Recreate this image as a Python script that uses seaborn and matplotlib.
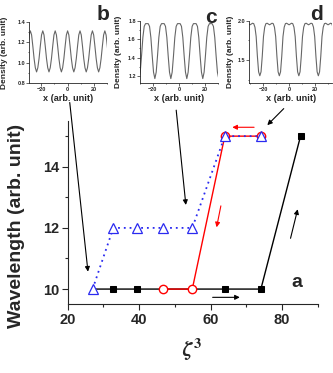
import numpy as np
import seaborn as sns
import matplotlib.pyplot as plt
from matplotlib.ticker import MultipleLocator

# main panel (a): wavelength vs zeta^3
zeta3 = [27.0, 32.8, 39.3, 46.7, 54.9, 64.0, 74.1, 85.2]
wl_black = [10, 10, 10, 10, 10, 10, 10, 15]

zeta3_red = [46.7, 54.9, 64.0, 74.1]
wl_red = [10, 10, 15, 15]

zeta3_blue = [27.0, 32.8, 39.3, 46.7, 54.9, 64.0, 74.1]
wl_blue = [10, 12, 12, 12, 12, 15, 15]

# insets (b, c, d): one period of the density profile
b_period = 9.4
b_shape = [1.31, 1.27, 1.16, 1.04, 0.95, 0.91, 0.95, 1.04, 1.16, 1.27]
c_period = 12.3
c_shape = [1.77, 1.77, 1.74, 1.62, 1.42, 1.24, 1.17, 1.24, 1.42, 1.62, 1.74, 1.77]
d_period = 15.0
d_shape = [1.95, 1.96, 1.97, 1.965, 1.92, 1.80, 1.55, 1.35, 1.30,
           1.35, 1.55, 1.80, 1.92, 1.965, 1.97, 1.96]

sns.set_style('ticks')
plt.rcParams['font.family'] = ['Liberation Sans', 'DejaVu Sans']
plt.rcParams['font.weight'] = 'bold'
plt.rcParams['axes.labelweight'] = 'bold'
plt.rcParams['mathtext.fontset'] = 'stix'


def tile_profile(shape, period, x0, lo, hi):
    # repeat the read period over the visible x range
    n = len(shape)
    xs, ys = [], []
    for k in range(int(np.floor((lo - x0) / period)) - 1, int(np.ceil((hi - x0) / period)) + 1):
        for i, v in enumerate(shape):
            xs.append(x0 + period * (k + i / n))
            ys.append(v)
    return xs, ys


fig = plt.figure(figsize=(3.33, 3.73), dpi=100)

# ---- main axes
ax = fig.add_axes([0.203, 0.184, 0.751, 0.492])
sns.lineplot(x=zeta3, y=wl_black, ax=ax, estimator=None, color='black', lw=1,
             marker='s', markersize=5, markeredgecolor='black', markerfacecolor='black',
             markevery=[1, 2, 5, 6, 7])
sns.lineplot(x=zeta3_red, y=wl_red, ax=ax, estimator=None, color='red', lw=1,
             marker='o', markersize=6, markeredgecolor='red', markerfacecolor='white',
             markeredgewidth=1)
sns.lineplot(x=zeta3_blue, y=wl_blue, ax=ax, estimator=None, color='#2a2af0', lw=1.3,
             linestyle=(0, (1, 2.2)), marker='^', markersize=7, markeredgecolor='#2a2af0',
             markerfacecolor='white', markeredgewidth=0.9)

ax.set_xlim(20, 90)
ax.set_ylim(9.5, 15.5)
ax.xaxis.set_major_locator(MultipleLocator(20))
ax.xaxis.set_minor_locator(MultipleLocator(10))
ax.yaxis.set_major_locator(MultipleLocator(2))
ax.yaxis.set_minor_locator(MultipleLocator(1))
ax.tick_params(which='major', direction='out', length=4, width=0.8, labelsize=10.5, pad=2)
ax.tick_params(which='minor', direction='out', length=2, width=0.8)
sns.despine(ax=ax)
for s in ax.spines.values():
    s.set_linewidth(0.8)
ax.set_ylabel('Wavelength (arb. unit)', fontsize=14)
ax.set_xlabel(r'$\zeta^3$', fontsize=15)
ax.yaxis.set_label_coords(-0.171, 0.426)
ax.xaxis.set_label_coords(0.497, -0.178)
ax.text(84.2, 10.2, 'a', fontsize=14, fontweight='bold', ha='center', va='center')

arrows = [
    ((20.6, 16.1), (25.7, 10.57), 'black'),
    ((50.4, 15.85), (53.1, 12.75), 'black'),
    ((80.5, 15.9), (75.9, 15.36), 'black'),
    ((72.2, 15.29), (66.1, 15.29), 'red'),
    ((62.9, 12.72), (61.7, 12.02), 'red'),
    ((60.6, 9.73), (68.2, 9.73), 'black'),
    ((82.4, 11.66), (84.4, 12.61), 'black'),
]
for tail, head, col in arrows:
    ax.annotate('', xy=head, xytext=tail, annotation_clip=False,
                arrowprops=dict(arrowstyle='-|>', color=col, lw=0.8,
                                mutation_scale=7, shrinkA=0, shrinkB=0))

# ---- insets
insets = [
    ([0.088, 0.777, 0.234, 0.165], b_shape, b_period, (-29, 30), (0.8, 1.4), 0.2, -0.27, 'b'),
    ([0.420, 0.777, 0.234, 0.167], c_shape, c_period, (-30, 30), (1.12, 1.8), 0.2, -0.235, 'c'),
    ([0.749, 0.778, 0.248, 0.166], d_shape, d_period, (-30.5, 33), (1.21, 2.0), 0.5, -0.19, 'd'),
]
letter_pos = {'b': (0.309, 0.960), 'c': (0.634, 0.954), 'd': (0.949, 0.960)}
for rect, shape, period, xl, yl, ystep, ylab_x, letter in insets:
    axi = fig.add_axes(rect)
    xs, ys = tile_profile(shape, period, 0.0, xl[0], xl[1])
    sns.lineplot(x=xs, y=ys, ax=axi, estimator=None, color='0.4', lw=0.8)
    axi.set_xlim(*xl)
    axi.set_ylim(*yl)
    axi.xaxis.set_major_locator(MultipleLocator(20))
    axi.xaxis.set_minor_locator(MultipleLocator(10))
    axi.yaxis.set_major_locator(MultipleLocator(ystep))
    axi.yaxis.set_minor_locator(MultipleLocator(ystep / 2))
    axi.tick_params(which='major', direction='out', length=2, width=0.5, labelsize=4, pad=1)
    axi.tick_params(which='minor', direction='out', length=1, width=0.5)
    sns.despine(ax=axi)
    for s in axi.spines.values():
        s.set_linewidth(0.6)
    axi.set_xlabel('x (arb. unit)', fontsize=6.6)
    axi.set_ylabel('Density (arb. unit)', fontsize=6.0)
    axi.xaxis.set_label_coords(0.5, -0.18)
    axi.yaxis.set_label_coords(ylab_x, 0.5)
    fig.text(*letter_pos[letter], letter, fontsize=15, fontweight='bold', ha='center', va='center')

fig.savefig('out.png', dpi=100)
